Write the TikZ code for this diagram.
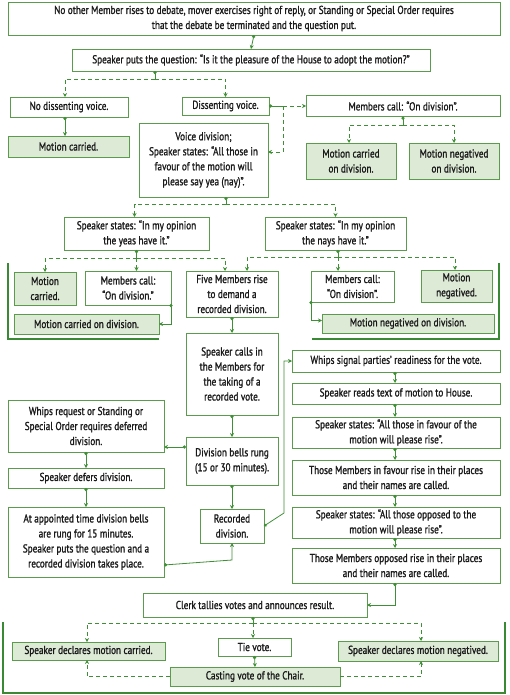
\documentclass[tikz,border=0pt]{standalone}
\usepackage{fontspec}
\setmainfont[FakeStretch=0.8, FakeBold=1.2]{PT Sans}
\usetikzlibrary{arrows.meta, calc}
\definecolor{boxgreen}{HTML}{5B9B4C}
\definecolor{palegreen}{HTML}{DDEAD6}
\definecolor{linkgreen}{HTML}{3F8F37}
\definecolor{bracketgreen}{HTML}{3A8A35}
\newcommand{\flowfont}{\fontsize{11.5}{15}\selectfont}
\tikzset{
  stage box/.style={draw=boxgreen, line width=0.8pt, fill=white, align=center, inner sep=1pt, outer sep=0pt, font=\flowfont, text=black!90},
  result box/.style={stage box, fill=palegreen},
  link/.style={linkgreen, line width=0.8pt},
  flow/.style={link, -{Stealth[length=4pt, width=4pt]}},
  dot flow/.style={link, {Circle[length=3.2pt]}-{Stealth[length=4pt, width=4pt]}},
  dot link/.style={link, {Circle[length=3.2pt]}-},
  dash flow/.style={flow, dashed, dash pattern=on 4pt off 3pt},
  dash link/.style={link, dashed, dash pattern=on 4pt off 3pt},
  bracket/.style={line width=1.6pt, bracketgreen}
}

\begin{document}
\begin{tikzpicture}[x=1pt, y=-1pt]
  \useasboundingbox (0,0) rectangle (509,695);

  % --- Question put ---
  \node[stage box, minimum width=492pt, minimum height=33pt] (top) at (254,18.5)
    {No other Member rises to debate, mover exercises right of reply, or Standing or Special Order requires\\that the debate be terminated and the question put.};
  \node[stage box, minimum width=358pt, minimum height=22pt] (q-put) at (251,60)
    {Speaker puts the question: “Is it the pleasure of the House to adopt the motion?”};

  % --- Voice vote ---
  \node[stage box, minimum width=118pt, minimum height=20pt] (no-dissent) at (69,107) {No dissenting voice.};
  \node[stage box, minimum width=87pt, minimum height=18pt] (dissent) at (225.5,106) {Dissenting voice.};
  \node[stage box, minimum width=194pt, minimum height=21pt] (call-A) at (403,106) {Members call: “On division”.};
  \node[result box, minimum width=121pt, minimum height=21pt] (carried-A) at (68.5,146.5) {Motion carried.};
  \node[stage box, minimum width=129pt, minimum height=74pt] (voice) at (203.5,160)
    {Voice division;\\Speaker states: “All those in\\favour of the motion will\\please say yea (nay)”.};
  \node[result box, minimum width=90pt, minimum height=36pt] (div-carried-A) at (351,161) {Motion carried\\on division.};
  \node[result box, minimum width=90pt, minimum height=36pt] (div-neg-A) at (454,161) {Motion negatived\\on division.};

  % --- Opinion of the Chair ---
  \node[stage box, minimum width=145pt, minimum height=33pt] (yeas) at (136.5,233.5) {Speaker states: “In my opinion\\the yeas have it.”};
  \node[stage box, minimum width=141pt, minimum height=33pt] (nays) at (335.5,233.5) {Speaker states: “In my opinion\\the nays have it.”};
  \node[result box, minimum width=62pt, minimum height=33pt] (carried-B) at (45,288.5) {Motion\\carried.};
  \node[stage box, minimum width=86pt, minimum height=34pt] (call-B) at (128,288) {Members call:\\“On division.”};
  \node[stage box, minimum width=92pt, minimum height=46pt] (five) at (232,294) {Five Members rise\\to demand a\\recorded division.};
  \node[stage box, minimum width=83pt, minimum height=31pt] (call-C) at (352.5,286.5) {Members call:\\“On division”.};
  \node[result box, minimum width=71pt, minimum height=32pt] (neg-B) at (456.5,286) {Motion\\negatived.};
  \node[result box, minimum width=145pt, minimum height=20pt] (div-carried-B) at (86.5,324) {Motion carried on division.};
  \node[result box, minimum width=172pt, minimum height=19pt] (div-neg-B) at (408,323.5) {Motion negatived on division.};

  % --- Recorded division ---
  \node[stage box, minimum width=92pt, minimum height=82pt] (calls) at (232,374) {Speaker calls in\\the Members for\\the taking of a\\recorded vote.};
  \node[stage box, minimum width=156pt, minimum height=52pt] (whips-req) at (86,426) {Whips request or Standing or\\Special Order requires deferred\\division.};
  \node[stage box, minimum width=92pt, minimum height=48pt] (bells) at (232,461) {Division bells rung\\(15 or 30 minutes).};
  \node[stage box, minimum width=156pt, minimum height=20pt] (defers) at (86,478) {Speaker defers division.};
  \node[stage box, minimum width=156pt, minimum height=70pt] (appointed) at (86,542)
    {At appointed time division bells\\are rung for 15 minutes.\\Speaker puts the question and a\\recorded division takes place.};
  \node[stage box, minimum width=64pt, minimum height=34pt] (recorded) at (232,526) {Recorded\\division.};

  % --- Taking the vote ---
  \node[stage box, minimum width=208pt, minimum height=22pt] (whips-sig) at (396,361) {Whips signal parties’ readiness for the vote.};
  \node[stage box, minimum width=208pt, minimum height=21pt] (reads) at (396,393.5) {Speaker reads text of motion to House.};
  \node[stage box, minimum width=208pt, minimum height=31pt] (favour) at (396,432.5) {Speaker states: “All those in favour of the\\motion will please rise”.};
  \node[stage box, minimum width=208pt, minimum height=35pt] (rise-yea) at (396,477.5) {Those Members in favour rise in their places\\and their names are called.};
  \node[stage box, minimum width=208pt, minimum height=31pt] (opposed) at (396,522.5) {Speaker states: “All those opposed to the\\motion will please rise”.};
  \node[stage box, minimum width=208pt, minimum height=35pt] (rise-nay) at (396,565.5) {Those Members opposed rise in their places\\and their names are called.};

  % --- Result ---
  \node[stage box, minimum width=224pt, minimum height=24pt] (clerk) at (255,605) {Clerk tallies votes and announces result.};
  \node[result box, minimum width=153pt, minimum height=18pt] (decl-carried) at (88.5,651) {Speaker declares motion carried.};
  \node[stage box, minimum width=73pt, minimum height=18pt] (tie) at (254.5,647) {Tie vote.};
  \node[result box, minimum width=160pt, minimum height=20pt] (decl-neg) at (418,651) {Speaker declares motion negatived.};
  \node[result box, minimum width=170pt, minimum height=19pt] (casting) at (255,676.5) {Casting vote of the Chair.};

  % --- Split points ---
  \coordinate (q-split) at (155,79);
  \coordinate (d-split) at (283,106);
  \coordinate (a-split) at (403,125);
  \coordinate (v-split) at (226,204);
  \coordinate (y-split) at (136.5,258);
  \coordinate (n-split) at (338,257);
  \coordinate (c-split) at (253,623);
  \coordinate (r-bend) at (232,560);
  \coordinate (r-turn) at (284,513);

  % --- Connectors ---
  \draw[dot flow] (top.south) -- (q-put.north);
  \draw[dot link] (q-put.south -| q-split) -- (q-split);
  \draw[dash flow] (q-split) -| ([xshift=-4pt]no-dissent.north);
  \draw[dash flow] (q-split) -| (dissent.north);
  \draw[dot flow] ([xshift=-4pt]no-dissent.south) -- ([xshift=-4pt]no-dissent.south |- carried-A.north);

  \draw[dot link] (dissent.east) -- (d-split);
  \draw[dash flow] (d-split) -- (call-A.west);
  \draw[dash flow] (d-split) |- ([yshift=8pt]voice.east);
  \draw[dot link] (call-A.south) -- (a-split);
  \draw[dash flow] (a-split) -| ([xshift=-2pt]div-carried-A.north);
  \draw[dash flow] (a-split) -| (div-neg-A.north);

  \draw[dot link] (voice.south -| v-split) -- (v-split);
  \draw[dash flow] (v-split) -| ([xshift=-2pt]yeas.north);
  \draw[dash flow] (v-split) -| (nays.north);

  \draw[dot link] (yeas.south) -- (y-split);
  \draw[dash flow] (y-split) -| (carried-B.north);
  \draw[dash flow] (y-split) -- (y-split |- call-B.north);
  \draw[dash flow] (y-split) -| ([xshift=-7pt]five.north);
  \draw[dot link] (nays.south -| n-split) -- (n-split);
  \draw[dash flow] (n-split) -| ([xshift=15pt]five.north);
  \draw[dash flow] (n-split) -- (n-split |- call-C.north);
  \draw[dash flow] (n-split) -| ([xshift=-1.5pt]neg-B.north);
  \draw[dot flow] ([yshift=1pt]call-B.south east) |- (div-carried-B.east);
  \draw[dot flow] ([yshift=1pt]call-C.south west) |- ([yshift=3pt]div-neg-B.west);

  \draw[dot flow] (five.south) -- (calls.north);
  \draw[dot flow] (calls.south) -- (bells.north);
  \draw[dot flow] ([yshift=14pt]bells.west) -- ([yshift=14pt]bells.west -| whips-req.east);
  \draw[dot flow] (whips-req.south) -- (defers.north);
  \draw[dot flow] (defers.south) -- (appointed.north);
  \draw[dot flow] (bells.south) -- (recorded.north);
  \draw[dot flow] ([yshift=-23pt]appointed.east) -- (r-bend) -- (recorded.south);
  \draw[dot flow] (recorded.east) -- (r-turn) |- (whips-sig.west);

  \foreach \from/\to in {whips-sig/reads, reads/favour, favour/rise-yea, rise-yea/opposed, opposed/rise-nay}
    \draw[dot flow] ([xshift=-1pt]\from.south) -- ([xshift=-1pt]\to.north);
  \draw[dot flow] ([xshift=-1pt]rise-nay.south) |- (clerk.east);

  \draw[dot link] (clerk.south -| c-split) -- (c-split);
  \draw[dash flow] (c-split) -| ([xshift=-1.5pt]decl-carried.north);
  \draw[dash flow] (c-split) -- (c-split |- tie.north);
  \draw[dash flow] (c-split) -| ([xshift=3pt]decl-neg.north);
  \draw[dot flow] (tie.south) -- (casting.north);
  \draw[dash flow] (casting.west) -| ([xshift=-1.5pt]decl-carried.south);
  \draw[dash flow] (casting.east) -| ([xshift=3pt]decl-neg.south);

  % --- Brackets ---
  \draw[bracket] (8,263) -- (8,339) -- (159,339);
  \draw[bracket] (499,263) -- (499,339) -- (312,339);
  \draw[bracket] (3,622) -- (3,693) -- (505,693) -- (505,622);
\end{tikzpicture}
\end{document}
